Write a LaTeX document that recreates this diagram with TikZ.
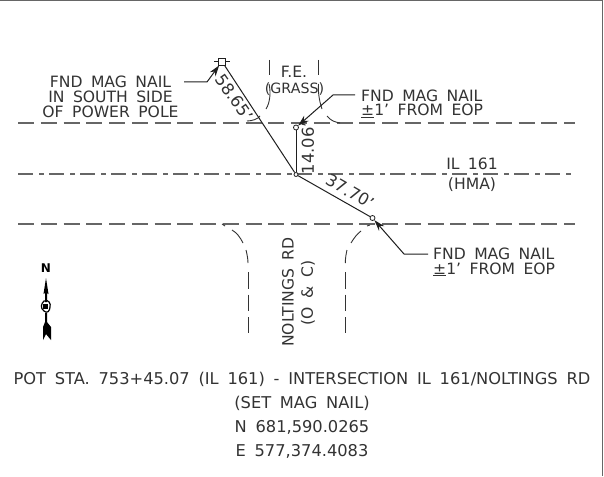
\documentclass[tikz,border=0pt]{standalone}
\usepackage{fontspec}
\setmainfont{DejaVu Sans}[WordSpace=1.7]
\usetikzlibrary{arrows.meta}
\definecolor{roadc}{gray}{0.4}
\definecolor{ink}{gray}{0.12}
\definecolor{txt}{gray}{0.2}
\tikzset{
 x=1pt,y=-1pt,
 lab/.style={font=\fontsize{15.6}{15}\selectfont,text=txt,inner sep=0pt,align=center},
 dimlab/.style={lab,font=\fontsize{16.4}{15}\selectfont},
 roadl/.style={draw=roadc,line width=1.4pt,dash pattern=on 16pt off 6.75pt},
 cl/.style={draw=roadc,line width=1.4pt,dash pattern=on 15pt off 6pt on 5pt off 5pt},
 thinroad/.style={draw=txt,line width=.9pt},
 tie/.style={draw=ink,line width=1pt},
 lead/.style={draw=ink,line width=1pt,-{Stealth[length=11pt,width=7pt]}},
 pt/.style={draw=ink,fill=white,circle,inner sep=0pt,minimum size=5pt,line width=.8pt},
 sq/.style={draw=ink,fill=white,rectangle,inner sep=0pt,minimum size=7pt,line width=.8pt},
}
\begin{document}
\begin{tikzpicture}
\useasboundingbox (0,0) rectangle (604,476);
\fill[white] (0,0) rectangle (604,476);
\draw[roadc,line width=1pt] (0,.5) -- (602.5,.5) -- (602.5,476);
% roads
\draw[roadl] (18,123) -- (575,123);
\draw[cl] (18,174) -- (575,174);
\draw[roadl] (18,224) -- (575,224);
\draw[thinroad] (269.5,60) -- (269.5,75);
\draw[thinroad] (318.5,60) -- (318.5,75);
\draw[thinroad] (269,84) .. controls (271,92) and (270,103) .. (266,109);
\draw[thinroad] (318.5,84) .. controls (318,92) and (319,100) .. (322,109);
\draw[thinroad] (247,121) .. controls (252,121) and (258,119) .. (260,116);
\draw[thinroad] (327,116) .. controls (331,121) and (335,122) .. (340,123);
\draw[thinroad] (222,224) -- (225,226);
\draw[thinroad] (232,230) .. controls (237,233) and (240,237) .. (243,243);
\draw[thinroad] (246,250) .. controls (247,254) and (248,259) .. (248,263);
\draw[thinroad,dash pattern=on 16.5pt off 6pt] (248,272) -- (248,333);
\draw[thinroad] (370,225) -- (367,226);
\draw[thinroad] (361,231) .. controls (357,234) and (354,238) .. (351,243);
\draw[thinroad] (347,250) .. controls (346,254) and (345.3,259) .. (345.3,263);
\draw[thinroad,dash pattern=on 16.5pt off 6pt] (345.3,272) -- (345.3,333);
% points
\node[sq] (a) at (222,61.5) {};
\node[pt] (b) at (296,127.5) {};
\node[pt,minimum size=4pt] (c) at (296,174.5) {};
\node[pt] (d) at (372.5,218) {};
\draw[tie] (a) -- (c);
\draw[tie] (b) -- (c);
\draw[tie] (c) -- (d);
\draw[tie] (214,61.5) -- (a);
\draw[tie] (a) -- (230,61.5);
% text
\node[dimlab,rotate=-55] at (234,97.5) {58.65'};
\node[dimlab,rotate=90] at (308,148) {14.06'};
\node[dimlab,rotate=-30] at (350,191.5) {37.70'};
\node[lab] at (294,72) {F.E.};
\node[lab,font=\fontsize{14.2}{15}\selectfont] at (294.5,89.5) {(GRASS)};
\node[lab] (n1) at (110.5,97) {FND MAG NAIL\\IN SOUTH SIDE\\OF POWER POLE};
\node[lab,anchor=west] (n2) at (361,96) {FND MAG NAIL};
\node[lab,anchor=west] (n2b) at (361,111) {\underline{±}1' FROM EOP};
\node[lab,anchor=west] (n3) at (433,254) {FND MAG NAIL};
\node[lab,anchor=west] (n3b) at (433,269.5) {\underline{±}1' FROM EOP};
\node[lab] at (472,164) {IL 161};
\node[lab] at (472,185) {(HMA)};
\node[lab,rotate=90] at (288,292) {NOLTINGS RD};
\node[lab,rotate=90] at (308,293) {(O \& C)};
\node[lab,font=\fontsize{16.25}{24}\selectfont] at (302,415.5) {POT STA. 753+45.07 (IL 161) - INTERSECTION IL 161/NOLTINGS RD\\(SET MAG NAIL)\\N 681,590.0265\\E 577,374.4083};
% leaders
\coordinate (l1) at (184,82);
\coordinate (l1b) at (207,82);
\draw[lead] (l1) -- (l1b) -- (a);
\coordinate (l2) at (355,95);
\coordinate (l2b) at (333,95);
\draw[lead] (l2) -- (l2b) -- (b);
\coordinate (l3) at (428,254);
\coordinate (l3b) at (404,254);
\draw[lead] (l3) -- (l3b) -- (d);
% north arrow
\node[font=\fontsize{12}{12}\selectfont\bfseries\rmfamily,inner sep=0pt] at (46,268) {N};
\fill[black] (46,278) -- (48.5,294) -- (47,293) -- (47,302) -- (45,302) -- (45,293) -- (43.5,294) -- cycle;
\draw[black,line width=1.2pt] (44,301) .. controls (49,299) and (51,304) .. (50,307) .. controls (50,311) and (47,314) .. (44,311) .. controls (40,308) and (41,304) .. (44,301) -- cycle;
\fill[black] (43,304) rectangle (48,309);
\fill[black] (45,313) -- (47,313) -- (47,322) -- (51,327) -- (51,340) -- (46,334) -- (43,340) -- (43,327) -- (45,322) -- cycle;
\end{tikzpicture}
\end{document}
